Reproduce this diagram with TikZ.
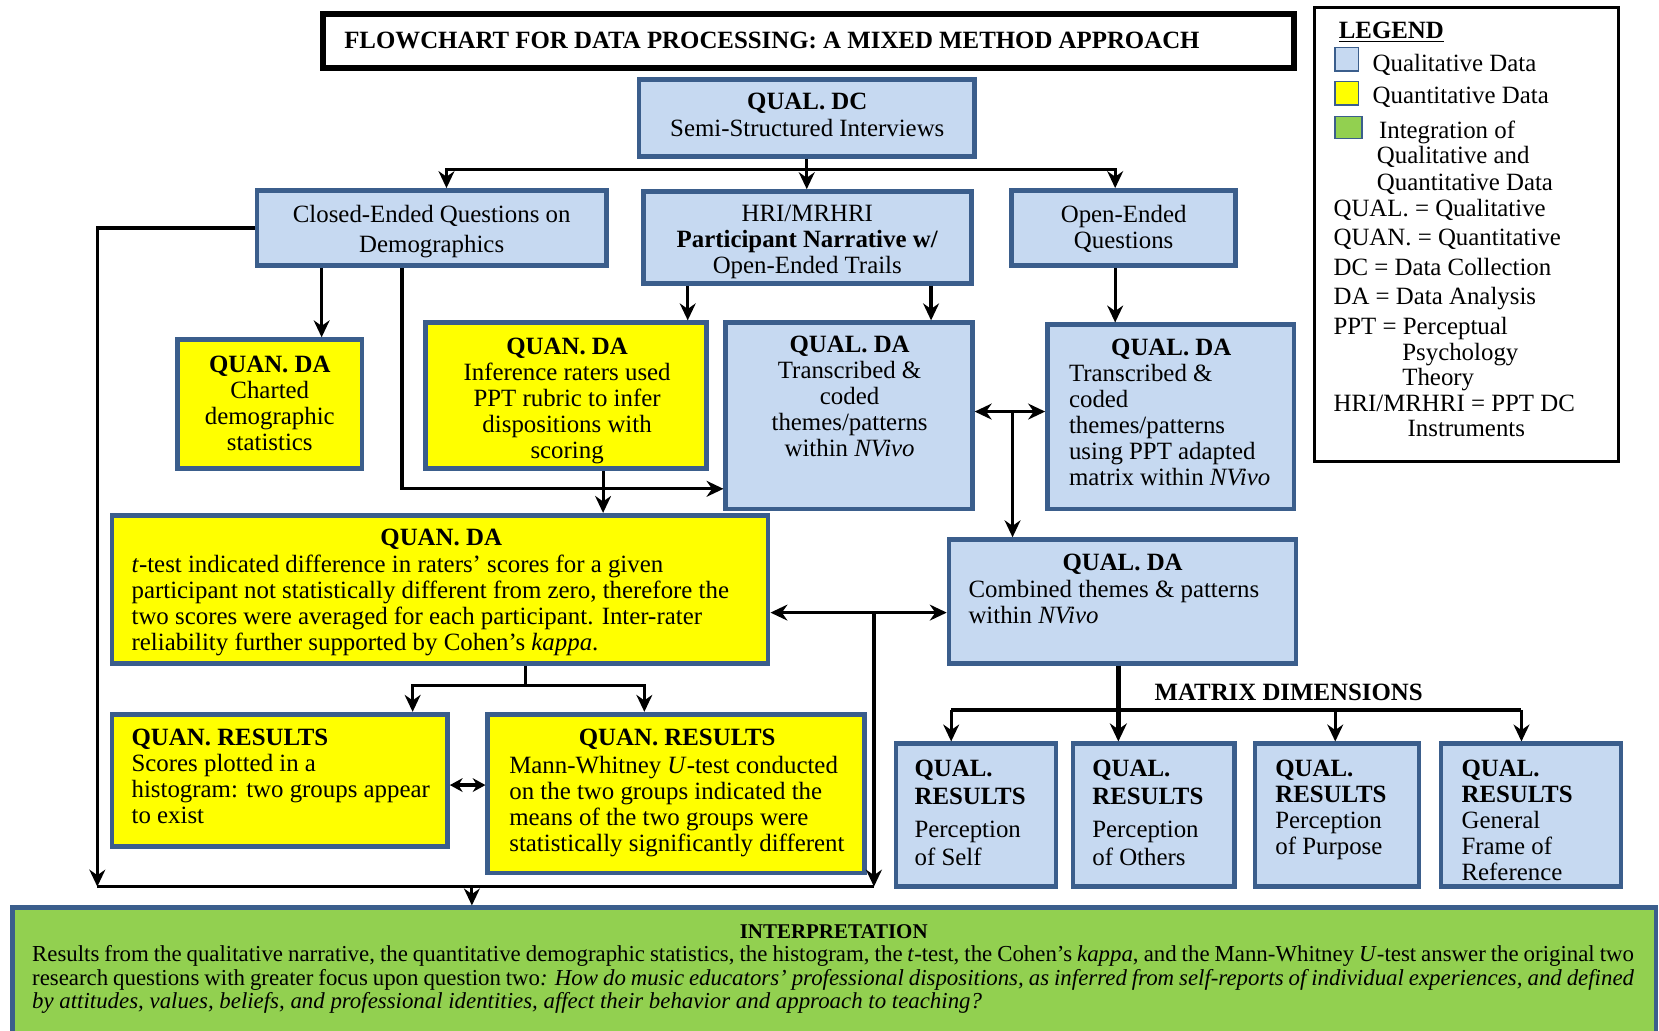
\documentclass[tikz,border=0pt]{standalone}
\usepackage{fontspec}
\setmainfont{Liberation Serif}
\usetikzlibrary{arrows.meta,fit}
\definecolor{qualfill}{HTML}{C6D9F1}
\definecolor{bordblue}{HTML}{3B5E8C}
\definecolor{quanfill}{HTML}{FFFF00}
\definecolor{intfill}{HTML}{92D050}
\begin{document}
\begin{tikzpicture}[x=0.5pt,y=-0.5pt,
  box/.style={rectangle, draw=bordblue, line width=2.2pt, inner sep=0pt},
  qualbox/.style={box, fill=qualfill},
  quanbox/.style={box, fill=quanfill},
  intbox/.style={box, fill=intfill},
  txt/.style={inner sep=0pt, font=\fontsize{11.75}{12.3}\selectfont},
  ctxt/.style={txt, align=center, anchor=north},
  ltxt/.style={txt, align=left, anchor=north west},
  legtxt/.style={txt, anchor=base west},
  line/.style={line width=1.5pt},
  conn/.style={line width=1.5pt, -{Stealth[length=8pt,width=7.5pt]}},
  dconn/.style={line width=1.5pt, {Stealth[length=8pt,width=7.5pt]}-{Stealth[length=8pt,width=7.5pt]}},
  sdconn/.style={line width=1.5pt, {Stealth[length=6pt,width=6.5pt]}-{Stealth[length=6pt,width=6.5pt]}},
]
\useasboundingbox (0,0) rectangle (1568,974);
\clip (0,0) rectangle (1568,974);

% ---------- title ----------
\node[draw=black, line width=3pt, inner sep=0pt, fit={(305,13) (1223,64)}] (title) {};
\node[txt, anchor=base west, font=\fontsize{11.75}{12.3}\selectfont\bfseries] (titletxt) at (325,46) {FLOWCHART FOR DATA PROCESSING: A MIXED METHOD APPROACH};

% ---------- legend ----------
\node[draw=black, line width=1.5pt, inner sep=0pt, fit={(1242,7) (1530,436)}] (legend) {};
\node[legtxt, font=\fontsize{11.75}{12.3}\selectfont\bfseries] (lgh) at (1265,36) {\underline{LEGEND}};
\node[qualbox, line width=0.8pt, fit={(1262,45) (1284,67)}] (lq) {};
\node[quanbox, line width=0.8pt, fit={(1262,77) (1284,99)}] (ln) {};
\node[intbox, line width=0.8pt, fit={(1262,110) (1287,131)}] (li) {};
\node[legtxt] (lt1) at (1297,68) {Qualitative Data};
\node[legtxt] (lt2) at (1297,98) {Quantitative Data};
\node[legtxt] (lt3) at (1303,131) {Integration of};
\node[legtxt] (lt4) at (1301,155) {Qualitative and};
\node[legtxt] (lt5) at (1301,180) {Quantitative Data};
\node[legtxt] (lt6) at (1260,205) {QUAL. = Qualitative};
\node[legtxt] (lt7) at (1260,232) {QUAN. = Quantitative};
\node[legtxt] (lt8) at (1260,260) {DC = Data Collection};
\node[legtxt] (lt9) at (1260,288) {DA = Data Analysis};
\node[legtxt] (lt10) at (1260,316) {PPT = Perceptual};
\node[legtxt] (lt11) at (1325,341) {Psychology};
\node[legtxt] (lt12) at (1325,364) {Theory};
\node[legtxt] (lt13) at (1260,389) {HRI/MRHRI = PPT DC};
\node[legtxt] (lt14) at (1330,413) {Instruments};

% ---------- boxes ----------
\node[qualbox, fit={(604,75) (921,148)}] (dc) {};
\node[ctxt] (dct) at (763,88) {\textbf{QUAL. DC}\\Semi-Structured Interviews};

\node[qualbox, fit={(243,180) (573,251)}] (closed) {};
\node[ctxt] (closedt) at (408,194) {Closed-Ended Questions on\\[1.5pt]Demographics};

\node[qualbox, fit={(608,181) (918,268)}] (hri) {};
\node[ctxt] (hrit) at (763,193) {HRI/MRHRI\\\textbf{Participant Narrative w/}\\Open-Ended Trails};

\node[qualbox, fit={(956,180) (1168,251)}] (open) {};
\node[ctxt] (opent) at (1062,194) {Open-Ended\\Questions};

\node[quanbox, fit={(168,321) (342,443)}] (qn1) {};
\node[ctxt] (qn1t) at (255,336) {\textbf{QUAN. DA}\\Charted\\demographic\\statistics};

\node[quanbox, fit={(402,305) (668,443)}] (qn2) {};
\node[ctxt] (qn2t) at (536,319) {\textbf{QUAN. DA}\\Inference raters used\\PPT rubric to infer\\dispositions with\\scoring};

\node[qualbox, fit={(686,305) (919,481)}] (ql1) {};
\node[ctxt] (ql1t) at (803,317) {\textbf{QUAL. DA}\\Transcribed \&\\coded\\themes/patterns\\within \textit{NVivo}};

\node[qualbox, fit={(990,307) (1223,481)}] (ql2) {};
\node[ctxt] (ql2h) at (1107,320) {\textbf{QUAL. DA}};
\node[ltxt] (ql2t) at (1010,344) {Transcribed \&\\coded\\themes/patterns\\using PPT adapted\\matrix within \textit{NVivo}};

\node[quanbox, fit={(106,487) (726,627)}] (qn3) {};
\node[ctxt] (qn3h) at (417,500) {\textbf{QUAN. DA}};
\node[ltxt] (qn3t) at (124,524) {\textit{t}-test indicated difference in raters' scores for a given\\participant not statistically different from zero, therefore the\\two scores were averaged for each participant. Inter-rater\\reliability further supported by Cohen's \textit{kappa}.};

\node[qualbox, fit={(897,510) (1225,627)}] (ql3) {};
\node[ctxt] (ql3h) at (1061,523) {\textbf{QUAL. DA}};
\node[ltxt] (ql3t) at (915,548) {Combined themes \& patterns\\within \textit{NVivo}};

\node[quanbox, fit={(106,675) (423,800)}] (qr1) {};
\node[ltxt] (qr1t) at (124,689) {\textbf{QUAN. RESULTS}\\Scores plotted in a\\histogram: two groups appear\\to exist};

\node[quanbox, fit={(461,675) (817,825)}] (qr2) {};
\node[ctxt] (qr2h) at (640,689) {\textbf{QUAN. RESULTS}};
\node[ltxt] (qr2t) at (481,714) {Mann-Whitney \textit{U}-test conducted\\on the two groups indicated the\\means of the two groups were\\statistically significantly different};

\node[qualbox, fit={(847,703) (998,838)}] (r1) {};
\node[ltxt] (r1t) at (864,718) {\textbf{QUAL.}\\[1pt]\textbf{RESULTS}\\[3pt]Perception\\[1pt]of Self};
\node[qualbox, fit={(1014,703) (1167,838)}] (r2) {};
\node[ltxt] (r2t) at (1032,718) {\textbf{QUAL.}\\[1pt]\textbf{RESULTS}\\[3pt]Perception\\[1pt]of Others};
\node[qualbox, fit={(1186,703) (1341,838)}] (r3) {};
\node[ltxt] (r3t) at (1205,718) {\textbf{QUAL.}\\\textbf{RESULTS}\\Perception\\of Purpose};
\node[qualbox, fit={(1362,703) (1532,838)}] (r4) {};
\node[ltxt] (r4t) at (1381,718) {\textbf{QUAL.}\\\textbf{RESULTS}\\General\\Frame of\\Reference};

\node[txt, anchor=base, font=\fontsize{11.75}{12.3}\selectfont\bfseries] (mdim) at (1218,662) {MATRIX DIMENSIONS};

\node[intbox, fit={(12,858) (1565,995)}] (interp) {};
\node[txt, anchor=base, font=\fontsize{9.9}{11.25}\selectfont\bfseries] (interph) at (788,887) {INTERPRETATION};
\node[txt, anchor=north west, text width=757pt, align=justify, font=\fontsize{10.8}{11.25}\selectfont] (interpt) at (30,893) {Results from the qualitative narrative, the quantitative demographic statistics, the histogram, the \textit{t}-test, the Cohen's \textit{kappa}, and the Mann-Whitney \textit{U}-test answer the original two\linebreak research questions with greater focus upon question two\textit{: How do music educators' professional dispositions, as inferred from self-reports of individual experiences, and defined\linebreak by attitudes, values, beliefs, and professional identities, affect their behavior and approach to teaching?}};

% ---------- connectors ----------
\draw[conn] (dc.south) |- (422,160) -- (closed.north -| 422,0);
\draw[conn] (dc.south) -- (dc.south |- hri.north);
\draw[conn] (dc.south) |- (1054,160) -- (open.north -| 1054,0);

\draw[conn] (closed.south -| 304,0) -- (qn1.north -| 304,0);
\draw[conn] (closed.south -| 380,0) |- (ql1.west |- 0,462);
\draw[conn] (hri.south -| 650,0) -- (qn2.north -| 650,0);
\draw[conn] (hri.south -| 880,0) -- (ql1.north -| 880,0);
\draw[conn] (open.south -| 1054,0) -- (ql2.north -| 1054,0);

\draw[dconn] (ql1.east |- 0,389) -- (ql2.west |- 0,389);
\coordinate (j1) at (957,389);
\draw[conn] (j1) -- (ql3.north -| j1);

\draw[conn] (qn2.south -| 570,0) -- (qn3.north -| 570,0);
\draw[dconn] (qn3.east |- 0,579) -- (ql3.west |- 0,579);

\coordinate (j2) at (826,579);
\coordinate (bl) at (92,838);
\coordinate (br) at (826,838);
\draw[line] (bl) -- (br);
\draw[conn] (j2) -- (br);
\draw[conn] (closed.west) -| (bl);
\draw[conn] (446,838) -- (interp.north -| 446,0);

\draw[conn] (qn3.south -| 497,0) |- (390,648) -- (qr1.north -| 390,0);
\draw[conn] (qn3.south -| 497,0) |- (609,648) -- (qr2.north -| 609,0);
\draw[sdconn] (qr1.east |- 0,742) -- (qr2.west |- 0,742);

\draw[line width=2.6pt, -{Stealth[length=8.5pt,width=8pt]}] (ql3.south -| 1057,0) -- (r2.north -| 1057,0);
\draw[line] (899,671) -- (1438,671);
\draw[conn] (899,671) -- (r1.north -| 899,0);
\draw[conn] (1262,671) -- (r3.north -| 1262,0);
\draw[conn] (1438,671) -- (r4.north -| 1438,0);
\end{tikzpicture}
\end{document}
